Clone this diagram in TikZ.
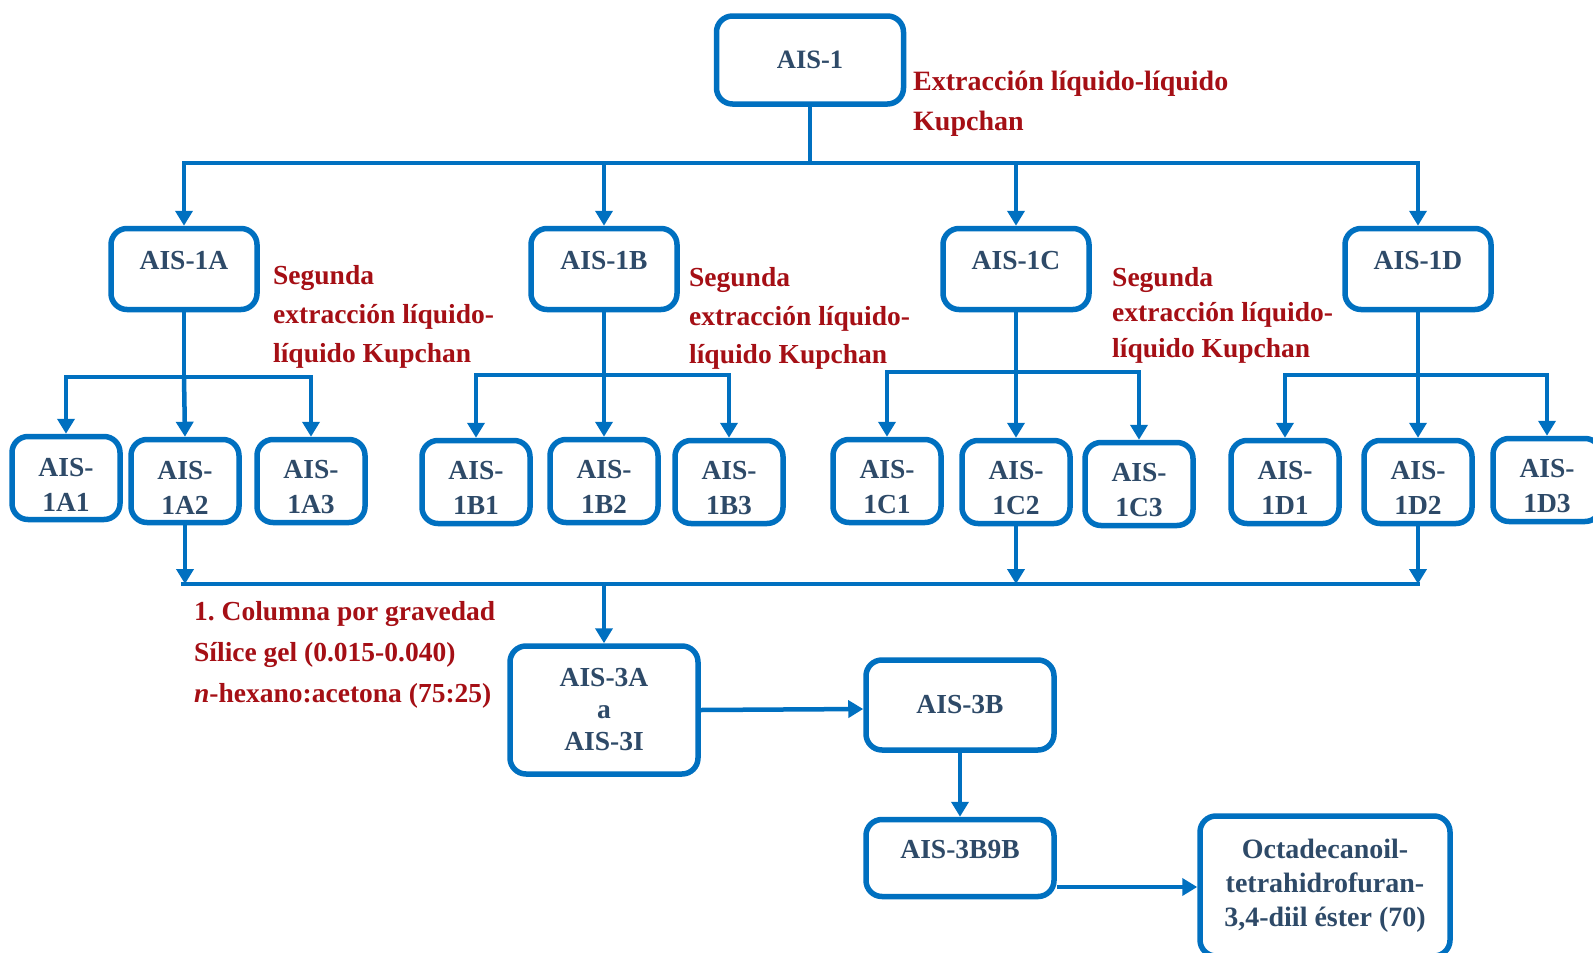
\documentclass[tikz,border=0pt]{standalone}
\usepackage{fontspec}
\setmainfont{Liberation Serif}
\usetikzlibrary{arrows.meta}
\definecolor{boxblue}{HTML}{0070C0}
\definecolor{labeltext}{HTML}{2E4A68}
\definecolor{notered}{HTML}{A50F15}
\frenchspacing

\begin{document}
\begin{tikzpicture}[x=1pt,y=-1pt,
  box/.style={draw=boxblue, line width=5.5pt, rounded corners=16pt, fill=white,
    inner sep=0pt, align=center, text=labeltext,
    font=\fontsize{27.5}{35}\selectfont\bfseries},
  small/.style={box, minimum width=108pt, minimum height=83pt, text height=66pt},
  mid/.style={box, minimum width=146pt, minimum height=81pt, text depth=18pt},
  note/.style={text=notered, font=\fontsize{27.5}{39}\selectfont\bfseries,
    anchor=base west, inner sep=0pt},
  link/.style={draw=boxblue, line width=4.5pt},
  flow/.style={link, -{Triangle[width=17pt,length=15pt]}},
]
\useasboundingbox (0,0) rectangle (1593,953);
\fill[white] (0,0) rectangle (1593,953);

% root
\node[box, minimum width=187pt, minimum height=88pt,
      font=\fontsize{26.5}{30}\selectfont\bfseries] (root) at (810,60) {AIS-1};
\node[note, font=\fontsize{28}{40}\selectfont\bfseries] (rt1) at (913,90) {Extracción líquido-líquido};
\node[note, font=\fontsize{28}{40}\selectfont\bfseries] (rt2) at (913,130) {Kupchan};

% first split
\node[mid] (nA) at (184,269) {AIS-1A};
\node[mid] (nB) at (604,269) {AIS-1B};
\node[mid] (nC) at (1016,269) {AIS-1C};
\node[mid] (nD) at (1418,269) {AIS-1D};

\coordinate (bus) at (810,163);
\draw[link] (root.south) -- (bus);
\draw[flow] (bus) -| (nA.north);
\draw[flow] (bus) -| (nD.north);
\draw[flow] (nB.north |- bus) -- (nB.north);
\draw[flow] (nC.north |- bus) -- (nC.north);

% second extraction notes
\node[note] (sA1) at (273,284) {Segunda};
\node[note] (sA2) at (273,323) {extracción líquido-};
\node[note] (sA3) at (273,362) {líquido Kupchan};
\node[note] (sB1) at (689,286) {Segunda};
\node[note] (sB2) at (689,325) {extracción líquido-};
\node[note] (sB3) at (689,363) {líquido Kupchan};
\node[note] (sC1) at (1112,286) {Segunda};
\node[note] (sC2) at (1112,321) {extracción líquido-};
\node[note] (sC3) at (1112,357) {líquido Kupchan};

% sub-fractions
\node[small] (a1) at (66,478)  {AIS-\\1A1};
\node[small] (a2) at (185,481) {AIS-\\1A2};
\node[small] (a3) at (311,481) {AIS-\\1A3};
\node[small] (b1) at (476,482) {AIS-\\1B1};
\node[small] (b2) at (604,481) {AIS-\\1B2};
\node[small] (b3) at (729,482) {AIS-\\1B3};
\node[small] (c1) at (887,481) {AIS-\\1C1};
\node[small] (c2) at (1016,482) {AIS-\\1C2};
\node[small] (c3) at (1139,484) {AIS-\\1C3};
\node[small] (d1) at (1285,482) {AIS-\\1D1};
\node[small] (d2) at (1418,482) {AIS-\\1D2};
\node[small] (d3) at (1547,480) {AIS-\\1D3};

\coordinate (yA) at (0,377);
\coordinate (yB) at (0,375);
\coordinate (yC) at (0,372);
\coordinate (yD) at (0,375);

\draw[link] (nA.south) -- (nA.south |- yA);
\draw[flow] (nA.south |- yA) -| (a1.north);
\draw[flow] (nA.south |- yA) -| (a3.north);
\draw[flow] (nA.south |- yA) -- (a2.north);

\draw[link] (nB.south) -- (nB.south |- yB);
\draw[flow] (nB.south |- yB) -| (b1.north);
\draw[flow] (nB.south |- yB) -| (b3.north);
\draw[flow] (nB.south |- yB) -- (b2.north);

\draw[link] (nC.south) -- (nC.south |- yC);
\draw[flow] (nC.south |- yC) -| (c1.north);
\draw[flow] (nC.south |- yC) -| (c3.north);
\draw[flow] (nC.south |- yC) -- (c2.north);

\draw[link] (nD.south) -- (nD.south |- yD);
\draw[flow] (nD.south |- yD) -| (d1.north);
\draw[flow] (nD.south |- yD) -| (d3.north);
\draw[flow] (nD.south |- yD) -- (d2.north);

% pooled fractions
\coordinate (botL) at (181,584);
\coordinate (botR) at (1420,584);
\draw[link] (botL) -- (botR);
\draw[flow] (a2.south) -- (a2.south |- botL);
\draw[flow] (c2.south) -- (c2.south |- botL);
\draw[flow] (d2.south) -- (d2.south |- botL);

\node[box, minimum width=188pt, minimum height=128pt,
      font=\fontsize{27.5}{32}\selectfont\bfseries] (f3A) at (604,710) {AIS-3A\\a\\AIS-3I};
\draw[flow] (f3A.north |- botL) -- (f3A.north);

\node[note, font=\fontsize{27.5}{41}\selectfont\bfseries] (col1) at (194,620) {1. Columna por gravedad};
\node[note, font=\fontsize{27.5}{41}\selectfont\bfseries] (col2) at (194,661) {Sílice gel (0.015-0.040)};
\node[note, font=\fontsize{27.5}{41}\selectfont\bfseries] (col3) at (194,702) {\textit{n}-hexano:acetona (75:25)};

\node[box, minimum width=188pt, minimum height=90pt] (f3B) at (960,705) {AIS-3B};
\node[box, minimum width=188pt, minimum height=77pt, text depth=18pt] (f3B9B) at (960,858) {AIS-3B9B};
\node[box, minimum width=250pt, minimum height=140pt,
      font=\fontsize{28}{34}\selectfont\bfseries] (prod) at (1325,886)
      {Octadecanoil-\\tetrahidrofuran-\\3,4-diil éster (70)};

\coordinate (yM) at (0,709);
\coordinate (yP) at (0,887);
\draw[flow] (f3A.east) -- (f3B.west |- yM);
\draw[flow] (f3B.south) -- (f3B9B.north);
\draw[flow] (f3B9B.east |- yP) -- (prod.west |- yP);
\end{tikzpicture}
\end{document}
